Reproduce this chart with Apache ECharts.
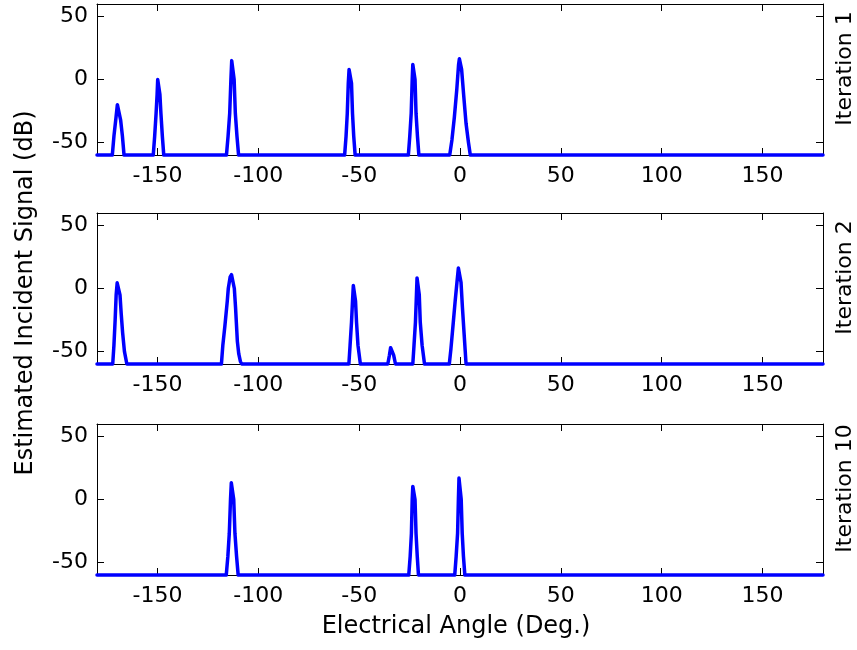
<!DOCTYPE html>
<html>
<head>
<meta charset="utf-8">
<script src="https://cdn.jsdelivr.net/npm/echarts@6/dist/echarts.min.js"></script>
<style>
html,body{margin:0;padding:0;background:#fff;}
#chart{width:857px;height:650px;}
</style>
</head>
<body>
<div id="chart"></div>
<script>
// ---- data (angle in degrees, estimated incident signal in dB) ----
const iteration1 = [
  [-180,-60],
  [-172.4,-60],[-171.6,-45],[-170.7,-32],[-169.9,-20],[-169.1,-20],[-168.3,-32],[-167.4,-45],[-166.6,-60],
  [-152.1,-60],[-151.4,-45],[-150.7,-27],[-150.2,-12],[-149.9,0],[-149.1,0],[-148.8,-12],[-148.3,-27],[-147.6,-45],[-146.9,-60],
  [-115.8,-60],[-115,-45],[-114.2,-27],[-113.6,0],[-113.2,15],[-112.4,15],[-112,0],[-111.4,-27],[-110.6,-45],[-109.8,-60],
  [-57.2,-60],[-56.5,-45],[-55.9,-27],[-55.4,-3],[-55,8],[-54.2,8],[-53.8,-3],[-53.3,-27],[-52.7,-45],[-52,-60],
  [-25.6,-60],[-24.9,-45],[-24.2,-27],[-23.7,0],[-23.4,12],[-22.6,12],[-22.3,0],[-21.8,-27],[-21.1,-45],[-20.4,-60],
  [-5.1,-60],[-4,-48],[-2.8,-30],[-1.6,-8],[-0.7,12],[-0.3,16.5],[0.2,16.5],[0.8,8],[1.8,-12],[3,-35],[4.2,-50],[5.1,-60],
  [180,-60]
];
const iteration2 = [
  [-180,-60],
  [-172.2,-60],[-171.6,-45],[-171,-25],[-170.5,-5],[-170,4.5],[-169.2,4.5],[-168.6,-5],[-168,-20],[-167.3,-35],[-166.4,-50],[-165.2,-60],
  [-118.3,-60],[-117.6,-45],[-116.6,-30],[-115.4,-10],[-114.9,0],[-114,9],[-113.3,11],[-112.5,11],[-111.9,0],[-111.3,-15],[-110.9,-27],[-110.4,-42],[-109.7,-52],[-108.9,-58],[-108.2,-60],
  [-55.1,-60],[-54.5,-45],[-53.8,-27],[-53.3,-10],[-52.9,2.4],[-52.1,2.4],[-51.8,-10],[-51.3,-27],[-50.6,-45],[-49.4,-60],
  [-35.8,-60],[-35,-53],[-34.4,-47],[-33.6,-47],[-32.9,-53],[-32,-60],
  [-23.4,-60],[-22.8,-45],[-22.1,-27],[-21.6,-5],[-21.3,8.4],[-20.5,8.4],[-20.2,-5],[-19.7,-27],[-18.8,-45],[-17.6,-60],
  [-5.3,-60],[-4.5,-48],[-3.5,-30],[-2.4,-10],[-1.5,5],[-0.8,16.3],[-0.1,16.3],[0.5,5],[1.2,-15],[2,-35],[2.6,-50],[3,-60],
  [180,-60]
];
const iteration10 = [
  [-180,-60],
  [-115.9,-60],[-115.1,-45],[-114.4,-27],[-113.8,0],[-113.4,13.3],[-112.6,13.3],[-112.2,0],[-111.6,-27],[-110.8,-45],[-110,-60],
  [-25.4,-60],[-24.7,-45],[-24.1,-27],[-23.7,0],[-23.4,10.4],[-22.6,10.4],[-22.3,0],[-21.8,-27],[-21.2,-45],[-20.6,-60],
  [-2.6,-60],[-1.9,-45],[-1.2,-27],[-0.8,0],[-0.5,17],[0.3,17],[0.6,0],[1.1,-27],[1.7,-45],[2.4,-60],
  [180,-60]
];
const xTicks = [-150,-100,-50,0,50,100,150];
const yTicks = [-50,0,50];
const panelTitles = ['Iteration 1','Iteration 2','Iteration 10'];
const xAxisTitle = 'Electrical Angle (Deg.)';
const yAxisTitle = 'Estimated Incident Signal (dB)';

// ---- layout ----
const FONT = 'DejaVu Sans';
const panels = [iteration1, iteration2, iteration10];
const tops = [4, 213, 424];
const H = 151;
const LEFT = 97, WIDTH = 726;

const grids = [], xAxes = [], yAxes = [], series = [], graphics = [];
panels.forEach((data, i) => {
  grids.push({left: LEFT, top: tops[i], width: WIDTH, height: H, containLabel: false});
  const lineStyle = {color: '#000', width: 1};
  xAxes.push({
    gridIndex: i, type: 'value', min: -180, max: 180, position: 'bottom',
    axisLine: {show: true, onZero: false, lineStyle},
    axisTick: {show: true, inside: true, length: 7, customValues: xTicks, lineStyle},
    axisLabel: {show: true, customValues: xTicks, margin: 10, color: '#000', fontFamily: FONT, fontSize: 22},
    splitLine: {show: false}
  });
  xAxes.push({
    gridIndex: i, type: 'value', min: -180, max: 180, position: 'top',
    axisLine: {show: true, onZero: false, lineStyle},
    axisTick: {show: true, inside: true, length: 7, customValues: xTicks, lineStyle},
    axisLabel: {show: false},
    splitLine: {show: false}
  });
  yAxes.push({
    gridIndex: i, type: 'value', min: -60, max: 60, position: 'left',
    axisLine: {show: true, onZero: false, lineStyle},
    axisTick: {show: true, inside: true, length: 7, customValues: yTicks, lineStyle},
    axisLabel: {show: true, customValues: yTicks, margin: 9, color: '#000', fontFamily: FONT, fontSize: 22},
    splitLine: {show: false}
  });
  yAxes.push({
    gridIndex: i, type: 'value', min: -60, max: 60, position: 'right',
    axisLine: {show: true, onZero: false, lineStyle},
    axisTick: {show: true, inside: true, length: 7, customValues: yTicks, lineStyle},
    axisLabel: {show: false},
    splitLine: {show: false}
  });
  series.push({
    type: 'line', xAxisIndex: 2 * i, yAxisIndex: 2 * i, data: data,
    showSymbol: false, symbol: 'none', clip: false, z: 5,
    lineStyle: {color: '#0000ff', width: 3.5, join: 'round', cap: 'round'},
    emphasis: {disabled: true}
  });
  graphics.push({
    type: 'text', x: 845, y: tops[i] + H / 2 - 11, rotation: Math.PI / 2,
    style: {text: panelTitles[i], fontFamily: FONT, fontSize: 22, fill: '#000', align: 'center', verticalAlign: 'middle'}
  });
});
graphics.push({
  type: 'text', x: 26, y: 293, rotation: Math.PI / 2,
  style: {text: yAxisTitle, fontFamily: FONT, fontSize: 24, fill: '#000', align: 'center', verticalAlign: 'middle'}
});
graphics.push({
  type: 'text', x: 456, y: 627,
  style: {text: xAxisTitle, fontFamily: FONT, fontSize: 24, fill: '#000', align: 'center', verticalAlign: 'middle'}
});

const chart = echarts.init(document.getElementById('chart'), null, {renderer: 'canvas'});
chart.setOption({
  animation: false,
  backgroundColor: '#fff',
  grid: grids,
  xAxis: xAxes,
  yAxis: yAxes,
  series: series,
  graphic: graphics
});
</script>
</body>
</html>
